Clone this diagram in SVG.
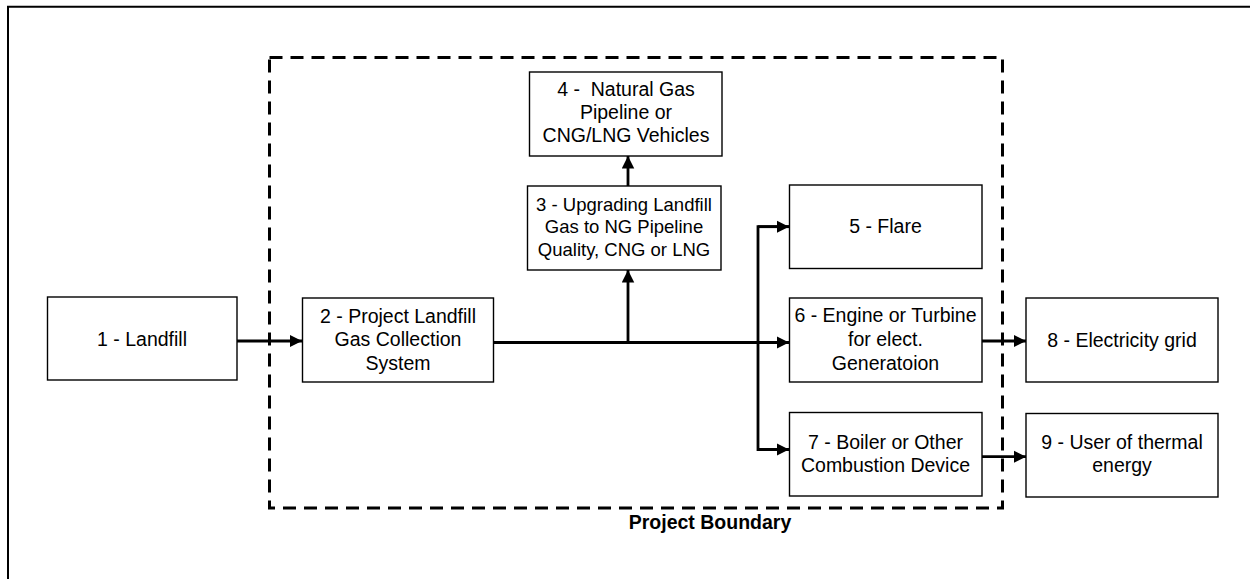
<svg xmlns="http://www.w3.org/2000/svg" width="1250" height="579" viewBox="0 0 1250 579">
  <style>
    .box { fill: #ffffff; stroke: #000000; stroke-width: 1.4; }
    .lbl { font-family: "Liberation Sans", Arial, sans-serif; font-size: 19.5px; fill: #000000; text-anchor: middle; }
    .sm { font-size: 18.5px; }
    .pre { white-space: pre; }
    .title { font-family: "Liberation Sans", Arial, sans-serif; font-size: 19.5px; font-weight: bold; fill: #000000; text-anchor: middle; }
    .wire { fill: none; stroke: #000000; stroke-width: 2.8; }
    .arrow { fill: none; stroke: #000000; stroke-width: 2.8; marker-end: url(#head); }
    .boundary { fill: none; stroke: #000000; stroke-width: 3; stroke-dasharray: 13 8; }
  </style>
  <defs>
    <marker id="head" markerUnits="userSpaceOnUse" markerWidth="13" markerHeight="13" viewBox="0 0 13 13" refX="12.5" refY="6.25" orient="auto">
      <path d="M0,0 L12.5,6.25 L0,12.5 z" fill="#000000"/>
    </marker>
  </defs>

  <rect width="1250" height="579" fill="#ffffff"/>

  <!-- frame (top and left edges visible) -->
  <path d="M8,579 L8,6.7 L1250,6.7" fill="none" stroke="#000000" stroke-width="2"/>

  <!-- project boundary -->
  <g id="project-boundary">
    <rect class="boundary" x="269.5" y="57.5" width="733" height="450.5"/>
    <text class="title" x="710" y="528.5">Project Boundary</text>
  </g>

  <!-- connectors -->
  <g id="connectors">
    <line class="arrow" x1="237" y1="341" x2="302" y2="341"/>
    <line class="arrow" x1="493" y1="342.5" x2="789" y2="342.5"/>
    <line class="arrow" x1="628" y1="342.5" x2="628" y2="270"/>
    <line class="arrow" x1="628" y1="186" x2="628" y2="156"/>
    <polyline class="wire" points="789,226.7 758,226.7 758,449.5 789,449.5"/>
    <line class="arrow" x1="758" y1="226.7" x2="789" y2="226.7"/>
    <line class="arrow" x1="758" y1="449.5" x2="789" y2="449.5"/>
    <line class="arrow" x1="982" y1="341" x2="1026" y2="341"/>
    <line class="arrow" x1="982" y1="456.7" x2="1026" y2="456.7"/>
  </g>

  <!-- nodes -->
  <g id="node-1">
    <rect class="box" x="47.5" y="297" width="189.5" height="83"/>
    <text class="lbl" x="142" y="345.5">1 - Landfill</text>
  </g>
  <g id="node-2">
    <rect class="box" x="302.5" y="298" width="191" height="84"/>
    <text class="lbl" x="398" y="322.5">2 - Project Landfill</text>
    <text class="lbl" x="398" y="346">Gas Collection</text>
    <text class="lbl" x="398" y="369.5">System</text>
  </g>
  <g id="node-3">
    <rect class="box" x="527.5" y="186" width="193.5" height="84"/>
    <text class="lbl sm" x="624" y="210.8">3 - Upgrading Landfill</text>
    <text class="lbl sm" x="624" y="233.3">Gas to NG Pipeline</text>
    <text class="lbl sm" x="624" y="255.8">Quality, CNG or LNG</text>
  </g>
  <g id="node-4">
    <rect class="box" x="529.5" y="72" width="192.5" height="84"/>
    <text class="lbl pre" x="626" y="95.5">4 -  Natural Gas</text>
    <text class="lbl" x="626" y="118.5">Pipeline or</text>
    <text class="lbl" x="626" y="141.5">CNG/LNG Vehicles</text>
  </g>
  <g id="node-5">
    <rect class="box" x="789.5" y="185" width="192.5" height="83.5"/>
    <text class="lbl" x="885.5" y="233">5 - Flare</text>
  </g>
  <g id="node-6">
    <rect class="box" x="789.5" y="298" width="192.5" height="84"/>
    <text class="lbl" x="885.5" y="322">6 - Engine or Turbine</text>
    <text class="lbl" x="885.5" y="346">for elect.</text>
    <text class="lbl" x="885.5" y="370">Generatoion</text>
  </g>
  <g id="node-7">
    <rect class="box" x="789.5" y="412.5" width="192.5" height="83.5"/>
    <text class="lbl" x="885.5" y="448.5">7 - Boiler or Other</text>
    <text class="lbl" x="885.5" y="471.5">Combustion Device</text>
  </g>
  <g id="node-8">
    <rect class="box" x="1026" y="298" width="192" height="84"/>
    <text class="lbl" x="1122" y="346.5">8 - Electricity grid</text>
  </g>
  <g id="node-9">
    <rect class="box" x="1026" y="413.5" width="192" height="83.5"/>
    <text class="lbl" x="1122" y="449">9 - User of thermal</text>
    <text class="lbl" x="1122" y="472">energy</text>
  </g>
</svg>
